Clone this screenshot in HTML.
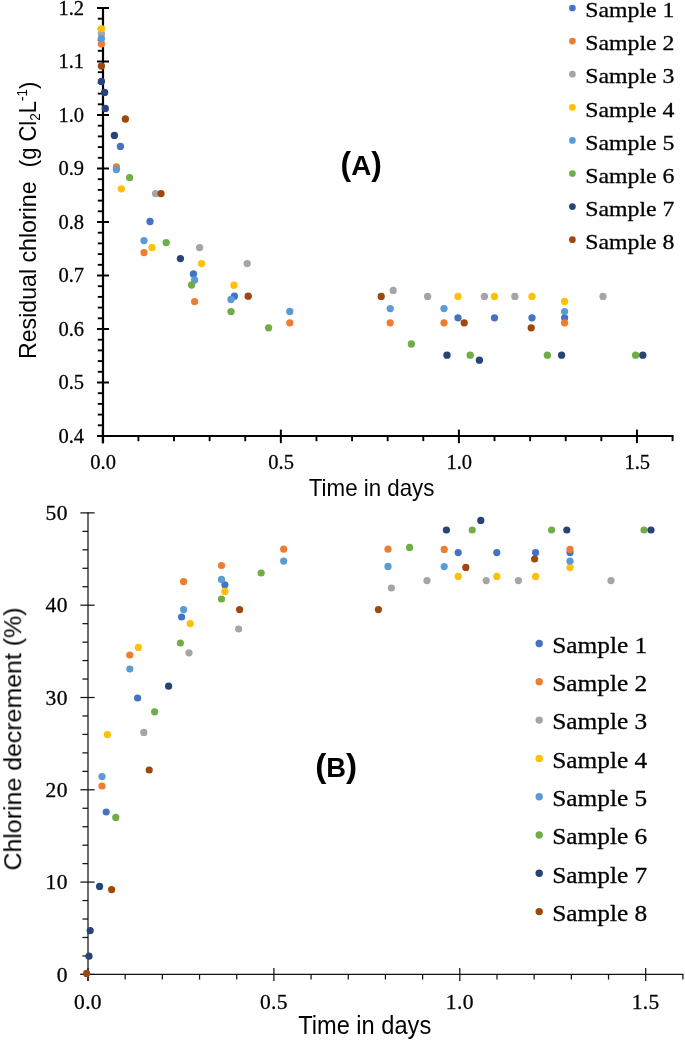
<!DOCTYPE html>
<html lang="en"><head><meta charset="utf-8"><title>Residual chlorine and chlorine decrement vs time</title>
<style>
html,body{margin:0;padding:0;background:#fff;}
body{width:685px;height:1042px;overflow:hidden;}
svg{display:block;}
</style></head><body>
<svg width="685" height="1042" viewBox="0 0 685 1042">
<rect x="0" y="0" width="685" height="1042" fill="#fff"/>
<g opacity="0.999">
<line x1="103.00" y1="7.00" x2="103.00" y2="443.20" stroke="#000" stroke-width="2.2"/>
<line x1="97.00" y1="435.90" x2="673.50" y2="435.90" stroke="#000" stroke-width="2.0"/>
<line x1="97.00" y1="8.00" x2="109.00" y2="8.00" stroke="#000" stroke-width="2.0"/>
<line x1="97.80" y1="18.70" x2="103.00" y2="18.70" stroke="#000" stroke-width="1.9"/>
<line x1="97.80" y1="29.40" x2="103.00" y2="29.40" stroke="#000" stroke-width="1.9"/>
<line x1="97.80" y1="40.10" x2="103.00" y2="40.10" stroke="#000" stroke-width="1.9"/>
<line x1="97.80" y1="50.80" x2="103.00" y2="50.80" stroke="#000" stroke-width="1.9"/>
<line x1="97.00" y1="61.50" x2="109.00" y2="61.50" stroke="#000" stroke-width="2.0"/>
<line x1="97.80" y1="72.20" x2="103.00" y2="72.20" stroke="#000" stroke-width="1.9"/>
<line x1="97.80" y1="82.90" x2="103.00" y2="82.90" stroke="#000" stroke-width="1.9"/>
<line x1="97.80" y1="93.60" x2="103.00" y2="93.60" stroke="#000" stroke-width="1.9"/>
<line x1="97.80" y1="104.30" x2="103.00" y2="104.30" stroke="#000" stroke-width="1.9"/>
<line x1="97.00" y1="115.00" x2="109.00" y2="115.00" stroke="#000" stroke-width="2.0"/>
<line x1="97.80" y1="125.70" x2="103.00" y2="125.70" stroke="#000" stroke-width="1.9"/>
<line x1="97.80" y1="136.40" x2="103.00" y2="136.40" stroke="#000" stroke-width="1.9"/>
<line x1="97.80" y1="147.10" x2="103.00" y2="147.10" stroke="#000" stroke-width="1.9"/>
<line x1="97.80" y1="157.80" x2="103.00" y2="157.80" stroke="#000" stroke-width="1.9"/>
<line x1="97.00" y1="168.50" x2="109.00" y2="168.50" stroke="#000" stroke-width="2.0"/>
<line x1="97.80" y1="179.20" x2="103.00" y2="179.20" stroke="#000" stroke-width="1.9"/>
<line x1="97.80" y1="189.90" x2="103.00" y2="189.90" stroke="#000" stroke-width="1.9"/>
<line x1="97.80" y1="200.60" x2="103.00" y2="200.60" stroke="#000" stroke-width="1.9"/>
<line x1="97.80" y1="211.30" x2="103.00" y2="211.30" stroke="#000" stroke-width="1.9"/>
<line x1="97.00" y1="222.00" x2="109.00" y2="222.00" stroke="#000" stroke-width="2.0"/>
<line x1="97.80" y1="232.70" x2="103.00" y2="232.70" stroke="#000" stroke-width="1.9"/>
<line x1="97.80" y1="243.40" x2="103.00" y2="243.40" stroke="#000" stroke-width="1.9"/>
<line x1="97.80" y1="254.10" x2="103.00" y2="254.10" stroke="#000" stroke-width="1.9"/>
<line x1="97.80" y1="264.80" x2="103.00" y2="264.80" stroke="#000" stroke-width="1.9"/>
<line x1="97.00" y1="275.50" x2="109.00" y2="275.50" stroke="#000" stroke-width="2.0"/>
<line x1="97.80" y1="286.20" x2="103.00" y2="286.20" stroke="#000" stroke-width="1.9"/>
<line x1="97.80" y1="296.90" x2="103.00" y2="296.90" stroke="#000" stroke-width="1.9"/>
<line x1="97.80" y1="307.60" x2="103.00" y2="307.60" stroke="#000" stroke-width="1.9"/>
<line x1="97.80" y1="318.30" x2="103.00" y2="318.30" stroke="#000" stroke-width="1.9"/>
<line x1="97.00" y1="329.00" x2="109.00" y2="329.00" stroke="#000" stroke-width="2.0"/>
<line x1="97.80" y1="339.70" x2="103.00" y2="339.70" stroke="#000" stroke-width="1.9"/>
<line x1="97.80" y1="350.40" x2="103.00" y2="350.40" stroke="#000" stroke-width="1.9"/>
<line x1="97.80" y1="361.10" x2="103.00" y2="361.10" stroke="#000" stroke-width="1.9"/>
<line x1="97.80" y1="371.80" x2="103.00" y2="371.80" stroke="#000" stroke-width="1.9"/>
<line x1="97.00" y1="382.50" x2="109.00" y2="382.50" stroke="#000" stroke-width="2.0"/>
<line x1="97.80" y1="393.20" x2="103.00" y2="393.20" stroke="#000" stroke-width="1.9"/>
<line x1="97.80" y1="403.90" x2="103.00" y2="403.90" stroke="#000" stroke-width="1.9"/>
<line x1="97.80" y1="414.60" x2="103.00" y2="414.60" stroke="#000" stroke-width="1.9"/>
<line x1="97.80" y1="425.30" x2="103.00" y2="425.30" stroke="#000" stroke-width="1.9"/>
<line x1="97.00" y1="436.00" x2="109.00" y2="436.00" stroke="#000" stroke-width="2.0"/>
<line x1="102.80" y1="429.60" x2="102.80" y2="443.20" stroke="#000" stroke-width="2.0"/>
<line x1="138.41" y1="435.90" x2="138.41" y2="441.20" stroke="#000" stroke-width="1.9"/>
<line x1="174.02" y1="435.90" x2="174.02" y2="441.20" stroke="#000" stroke-width="1.9"/>
<line x1="209.63" y1="435.90" x2="209.63" y2="441.20" stroke="#000" stroke-width="1.9"/>
<line x1="245.24" y1="435.90" x2="245.24" y2="441.20" stroke="#000" stroke-width="1.9"/>
<line x1="280.85" y1="429.60" x2="280.85" y2="443.20" stroke="#000" stroke-width="2.0"/>
<line x1="316.46" y1="435.90" x2="316.46" y2="441.20" stroke="#000" stroke-width="1.9"/>
<line x1="352.07" y1="435.90" x2="352.07" y2="441.20" stroke="#000" stroke-width="1.9"/>
<line x1="387.68" y1="435.90" x2="387.68" y2="441.20" stroke="#000" stroke-width="1.9"/>
<line x1="423.29" y1="435.90" x2="423.29" y2="441.20" stroke="#000" stroke-width="1.9"/>
<line x1="458.90" y1="429.60" x2="458.90" y2="443.20" stroke="#000" stroke-width="2.0"/>
<line x1="494.51" y1="435.90" x2="494.51" y2="441.20" stroke="#000" stroke-width="1.9"/>
<line x1="530.12" y1="435.90" x2="530.12" y2="441.20" stroke="#000" stroke-width="1.9"/>
<line x1="565.73" y1="435.90" x2="565.73" y2="441.20" stroke="#000" stroke-width="1.9"/>
<line x1="601.34" y1="435.90" x2="601.34" y2="441.20" stroke="#000" stroke-width="1.9"/>
<line x1="636.95" y1="429.60" x2="636.95" y2="443.20" stroke="#000" stroke-width="2.0"/>
<line x1="672.56" y1="435.90" x2="672.56" y2="441.20" stroke="#000" stroke-width="1.9"/>
<text x="84.00" y="14.90" font-family='"Liberation Serif", serif' font-size="20.5" font-weight="normal" text-anchor="end" fill="#000" stroke="#000" stroke-width="0.3" stroke-linejoin="round">1.2</text>
<text x="84.00" y="68.40" font-family='"Liberation Serif", serif' font-size="20.5" font-weight="normal" text-anchor="end" fill="#000" stroke="#000" stroke-width="0.3" stroke-linejoin="round">1.1</text>
<text x="84.00" y="121.90" font-family='"Liberation Serif", serif' font-size="20.5" font-weight="normal" text-anchor="end" fill="#000" stroke="#000" stroke-width="0.3" stroke-linejoin="round">1.0</text>
<text x="84.00" y="175.40" font-family='"Liberation Serif", serif' font-size="20.5" font-weight="normal" text-anchor="end" fill="#000" stroke="#000" stroke-width="0.3" stroke-linejoin="round">0.9</text>
<text x="84.00" y="228.90" font-family='"Liberation Serif", serif' font-size="20.5" font-weight="normal" text-anchor="end" fill="#000" stroke="#000" stroke-width="0.3" stroke-linejoin="round">0.8</text>
<text x="84.00" y="282.40" font-family='"Liberation Serif", serif' font-size="20.5" font-weight="normal" text-anchor="end" fill="#000" stroke="#000" stroke-width="0.3" stroke-linejoin="round">0.7</text>
<text x="84.00" y="335.90" font-family='"Liberation Serif", serif' font-size="20.5" font-weight="normal" text-anchor="end" fill="#000" stroke="#000" stroke-width="0.3" stroke-linejoin="round">0.6</text>
<text x="84.00" y="389.40" font-family='"Liberation Serif", serif' font-size="20.5" font-weight="normal" text-anchor="end" fill="#000" stroke="#000" stroke-width="0.3" stroke-linejoin="round">0.5</text>
<text x="84.00" y="442.90" font-family='"Liberation Serif", serif' font-size="20.5" font-weight="normal" text-anchor="end" fill="#000" stroke="#000" stroke-width="0.3" stroke-linejoin="round">0.4</text>
<text x="103.10" y="468.70" font-family='"Liberation Serif", serif' font-size="20.5" font-weight="normal" text-anchor="middle" fill="#000" stroke="#000" stroke-width="0.3" stroke-linejoin="round">0.0</text>
<text x="281.15" y="468.70" font-family='"Liberation Serif", serif' font-size="20.5" font-weight="normal" text-anchor="middle" fill="#000" stroke="#000" stroke-width="0.3" stroke-linejoin="round">0.5</text>
<text x="459.20" y="468.70" font-family='"Liberation Serif", serif' font-size="20.5" font-weight="normal" text-anchor="middle" fill="#000" stroke="#000" stroke-width="0.3" stroke-linejoin="round">1.0</text>
<text x="637.25" y="468.70" font-family='"Liberation Serif", serif' font-size="20.5" font-weight="normal" text-anchor="middle" fill="#000" stroke="#000" stroke-width="0.3" stroke-linejoin="round">1.5</text>
<text x="308.80" y="495.60" font-family='"Liberation Sans", sans-serif' font-size="24.0" font-weight="normal" text-anchor="start" fill="#000" textLength="125.60" lengthAdjust="spacingAndGlyphs">Time in days</text>
<text transform="translate(35.6,359.0) rotate(-90)" font-family='"Liberation Sans", sans-serif' font-size="23.6" fill="#000" textLength="177.6" lengthAdjust="spacingAndGlyphs">Residual chlorine</text>
<text transform="translate(35.6,167.2) rotate(-90)" font-family='"Liberation Sans", sans-serif' font-size="23.6" fill="#000" textLength="85.6" lengthAdjust="spacingAndGlyphs">(g Cl<tspan font-size="14.5" dy="4.5">2</tspan><tspan dy="-4.5">L</tspan><tspan font-size="14.5" dy="-8.5">-1</tspan><tspan dy="8.5">)</tspan></text>
<text x="340.60" y="175.00" font-family='"Liberation Sans", sans-serif' font-size="28.5" font-weight="bold" text-anchor="start" fill="#000" textLength="41.20" lengthAdjust="spacingAndGlyphs"><tspan font-size="32.5">(</tspan>A<tspan font-size="32.5">)</tspan></text>
<circle cx="572.4" cy="8.00" r="3.35" fill="#4472C4"/>
<text x="585.30" y="17.20" font-family='"Liberation Serif", serif' font-size="22.0" font-weight="normal" text-anchor="start" fill="#000" stroke="#000" stroke-width="0.3" stroke-linejoin="round" textLength="89.20" lengthAdjust="spacingAndGlyphs">Sample 1</text>
<circle cx="572.4" cy="41.10" r="3.35" fill="#ED7D31"/>
<text x="585.30" y="50.30" font-family='"Liberation Serif", serif' font-size="22.0" font-weight="normal" text-anchor="start" fill="#000" stroke="#000" stroke-width="0.3" stroke-linejoin="round" textLength="89.20" lengthAdjust="spacingAndGlyphs">Sample 2</text>
<circle cx="572.4" cy="74.20" r="3.35" fill="#A5A5A5"/>
<text x="585.30" y="83.40" font-family='"Liberation Serif", serif' font-size="22.0" font-weight="normal" text-anchor="start" fill="#000" stroke="#000" stroke-width="0.3" stroke-linejoin="round" textLength="89.20" lengthAdjust="spacingAndGlyphs">Sample 3</text>
<circle cx="572.4" cy="107.30" r="3.35" fill="#FFC000"/>
<text x="585.30" y="116.50" font-family='"Liberation Serif", serif' font-size="22.0" font-weight="normal" text-anchor="start" fill="#000" stroke="#000" stroke-width="0.3" stroke-linejoin="round" textLength="89.20" lengthAdjust="spacingAndGlyphs">Sample 4</text>
<circle cx="572.4" cy="140.40" r="3.35" fill="#5B9BD5"/>
<text x="585.30" y="149.60" font-family='"Liberation Serif", serif' font-size="22.0" font-weight="normal" text-anchor="start" fill="#000" stroke="#000" stroke-width="0.3" stroke-linejoin="round" textLength="89.20" lengthAdjust="spacingAndGlyphs">Sample 5</text>
<circle cx="572.4" cy="173.50" r="3.35" fill="#70AD47"/>
<text x="585.30" y="182.70" font-family='"Liberation Serif", serif' font-size="22.0" font-weight="normal" text-anchor="start" fill="#000" stroke="#000" stroke-width="0.3" stroke-linejoin="round" textLength="89.20" lengthAdjust="spacingAndGlyphs">Sample 6</text>
<circle cx="572.4" cy="206.60" r="3.35" fill="#264478"/>
<text x="585.30" y="215.80" font-family='"Liberation Serif", serif' font-size="22.0" font-weight="normal" text-anchor="start" fill="#000" stroke="#000" stroke-width="0.3" stroke-linejoin="round" textLength="89.20" lengthAdjust="spacingAndGlyphs">Sample 7</text>
<circle cx="572.4" cy="239.70" r="3.35" fill="#9E480E"/>
<text x="585.30" y="248.90" font-family='"Liberation Serif", serif' font-size="22.0" font-weight="normal" text-anchor="start" fill="#000" stroke="#000" stroke-width="0.3" stroke-linejoin="round" textLength="89.20" lengthAdjust="spacingAndGlyphs">Sample 8</text>
<line x1="88.00" y1="512.30" x2="88.00" y2="981.00" stroke="#141414" stroke-width="1.25"/>
<line x1="80.40" y1="974.40" x2="683.50" y2="974.40" stroke="#141414" stroke-width="1.25"/>
<line x1="80.40" y1="974.40" x2="94.60" y2="974.40" stroke="#141414" stroke-width="1.25"/>
<line x1="82.40" y1="955.94" x2="88.00" y2="955.94" stroke="#141414" stroke-width="1.25"/>
<line x1="82.40" y1="937.48" x2="88.00" y2="937.48" stroke="#141414" stroke-width="1.25"/>
<line x1="82.40" y1="919.02" x2="88.00" y2="919.02" stroke="#141414" stroke-width="1.25"/>
<line x1="82.40" y1="900.56" x2="88.00" y2="900.56" stroke="#141414" stroke-width="1.25"/>
<line x1="80.40" y1="882.10" x2="94.60" y2="882.10" stroke="#141414" stroke-width="1.25"/>
<line x1="82.40" y1="863.64" x2="88.00" y2="863.64" stroke="#141414" stroke-width="1.25"/>
<line x1="82.40" y1="845.18" x2="88.00" y2="845.18" stroke="#141414" stroke-width="1.25"/>
<line x1="82.40" y1="826.72" x2="88.00" y2="826.72" stroke="#141414" stroke-width="1.25"/>
<line x1="82.40" y1="808.26" x2="88.00" y2="808.26" stroke="#141414" stroke-width="1.25"/>
<line x1="80.40" y1="789.80" x2="94.60" y2="789.80" stroke="#141414" stroke-width="1.25"/>
<line x1="82.40" y1="771.34" x2="88.00" y2="771.34" stroke="#141414" stroke-width="1.25"/>
<line x1="82.40" y1="752.88" x2="88.00" y2="752.88" stroke="#141414" stroke-width="1.25"/>
<line x1="82.40" y1="734.42" x2="88.00" y2="734.42" stroke="#141414" stroke-width="1.25"/>
<line x1="82.40" y1="715.96" x2="88.00" y2="715.96" stroke="#141414" stroke-width="1.25"/>
<line x1="80.40" y1="697.50" x2="94.60" y2="697.50" stroke="#141414" stroke-width="1.25"/>
<line x1="82.40" y1="679.04" x2="88.00" y2="679.04" stroke="#141414" stroke-width="1.25"/>
<line x1="82.40" y1="660.58" x2="88.00" y2="660.58" stroke="#141414" stroke-width="1.25"/>
<line x1="82.40" y1="642.12" x2="88.00" y2="642.12" stroke="#141414" stroke-width="1.25"/>
<line x1="82.40" y1="623.66" x2="88.00" y2="623.66" stroke="#141414" stroke-width="1.25"/>
<line x1="80.40" y1="605.20" x2="94.60" y2="605.20" stroke="#141414" stroke-width="1.25"/>
<line x1="82.40" y1="586.74" x2="88.00" y2="586.74" stroke="#141414" stroke-width="1.25"/>
<line x1="82.40" y1="568.28" x2="88.00" y2="568.28" stroke="#141414" stroke-width="1.25"/>
<line x1="82.40" y1="549.82" x2="88.00" y2="549.82" stroke="#141414" stroke-width="1.25"/>
<line x1="82.40" y1="531.36" x2="88.00" y2="531.36" stroke="#141414" stroke-width="1.25"/>
<line x1="80.40" y1="512.90" x2="94.60" y2="512.90" stroke="#141414" stroke-width="1.25"/>
<line x1="88.00" y1="968.00" x2="88.00" y2="981.00" stroke="#141414" stroke-width="1.25"/>
<line x1="125.18" y1="974.40" x2="125.18" y2="979.60" stroke="#141414" stroke-width="1.25"/>
<line x1="162.36" y1="974.40" x2="162.36" y2="979.60" stroke="#141414" stroke-width="1.25"/>
<line x1="199.54" y1="974.40" x2="199.54" y2="979.60" stroke="#141414" stroke-width="1.25"/>
<line x1="236.72" y1="974.40" x2="236.72" y2="979.60" stroke="#141414" stroke-width="1.25"/>
<line x1="273.90" y1="968.00" x2="273.90" y2="981.00" stroke="#141414" stroke-width="1.25"/>
<line x1="311.08" y1="974.40" x2="311.08" y2="979.60" stroke="#141414" stroke-width="1.25"/>
<line x1="348.26" y1="974.40" x2="348.26" y2="979.60" stroke="#141414" stroke-width="1.25"/>
<line x1="385.44" y1="974.40" x2="385.44" y2="979.60" stroke="#141414" stroke-width="1.25"/>
<line x1="422.62" y1="974.40" x2="422.62" y2="979.60" stroke="#141414" stroke-width="1.25"/>
<line x1="459.80" y1="968.00" x2="459.80" y2="981.00" stroke="#141414" stroke-width="1.25"/>
<line x1="496.98" y1="974.40" x2="496.98" y2="979.60" stroke="#141414" stroke-width="1.25"/>
<line x1="534.16" y1="974.40" x2="534.16" y2="979.60" stroke="#141414" stroke-width="1.25"/>
<line x1="571.34" y1="974.40" x2="571.34" y2="979.60" stroke="#141414" stroke-width="1.25"/>
<line x1="608.52" y1="974.40" x2="608.52" y2="979.60" stroke="#141414" stroke-width="1.25"/>
<line x1="645.70" y1="968.00" x2="645.70" y2="981.00" stroke="#141414" stroke-width="1.25"/>
<line x1="682.88" y1="974.40" x2="682.88" y2="979.60" stroke="#141414" stroke-width="1.25"/>
<text x="67.80" y="981.60" font-family='"Liberation Serif", serif' font-size="21.5" font-weight="normal" text-anchor="end" fill="#000" stroke="#000" stroke-width="0.3" stroke-linejoin="round" letter-spacing="0.35">0</text>
<text x="67.80" y="889.30" font-family='"Liberation Serif", serif' font-size="21.5" font-weight="normal" text-anchor="end" fill="#000" stroke="#000" stroke-width="0.3" stroke-linejoin="round" letter-spacing="0.35">10</text>
<text x="67.80" y="797.00" font-family='"Liberation Serif", serif' font-size="21.5" font-weight="normal" text-anchor="end" fill="#000" stroke="#000" stroke-width="0.3" stroke-linejoin="round" letter-spacing="0.35">20</text>
<text x="67.80" y="704.70" font-family='"Liberation Serif", serif' font-size="21.5" font-weight="normal" text-anchor="end" fill="#000" stroke="#000" stroke-width="0.3" stroke-linejoin="round" letter-spacing="0.35">30</text>
<text x="67.80" y="612.40" font-family='"Liberation Serif", serif' font-size="21.5" font-weight="normal" text-anchor="end" fill="#000" stroke="#000" stroke-width="0.3" stroke-linejoin="round" letter-spacing="0.35">40</text>
<text x="67.80" y="520.10" font-family='"Liberation Serif", serif' font-size="21.5" font-weight="normal" text-anchor="end" fill="#000" stroke="#000" stroke-width="0.3" stroke-linejoin="round" letter-spacing="0.35">50</text>
<text x="88.00" y="1008.80" font-family='"Liberation Serif", serif' font-size="21.5" font-weight="normal" text-anchor="middle" fill="#000" stroke="#000" stroke-width="0.3" stroke-linejoin="round" letter-spacing="0.35">0.0</text>
<text x="273.90" y="1008.80" font-family='"Liberation Serif", serif' font-size="21.5" font-weight="normal" text-anchor="middle" fill="#000" stroke="#000" stroke-width="0.3" stroke-linejoin="round" letter-spacing="0.35">0.5</text>
<text x="459.80" y="1008.80" font-family='"Liberation Serif", serif' font-size="21.5" font-weight="normal" text-anchor="middle" fill="#000" stroke="#000" stroke-width="0.3" stroke-linejoin="round" letter-spacing="0.35">1.0</text>
<text x="645.70" y="1008.80" font-family='"Liberation Serif", serif' font-size="21.5" font-weight="normal" text-anchor="middle" fill="#000" stroke="#000" stroke-width="0.3" stroke-linejoin="round" letter-spacing="0.35">1.5</text>
<text x="298.20" y="1033.60" font-family='"Liberation Sans", sans-serif' font-size="25.4" font-weight="normal" text-anchor="start" fill="#000" textLength="133.00" lengthAdjust="spacingAndGlyphs">Time in days</text>
<text transform="translate(21.2,870.5) rotate(-90)" font-family='"Liberation Sans", sans-serif' font-size="24.4" fill="#000" textLength="263" lengthAdjust="spacingAndGlyphs">Chlorine decrement (%)</text>
<text x="315.20" y="776.60" font-family='"Liberation Sans", sans-serif' font-size="27.5" font-weight="bold" text-anchor="start" fill="#000" textLength="42.00" lengthAdjust="spacingAndGlyphs"><tspan font-size="33.5">(</tspan>B<tspan font-size="33.5">)</tspan></text>
<circle cx="539.2" cy="643.50" r="3.7" fill="#4472C4"/>
<text x="552.20" y="652.70" font-family='"Liberation Serif", serif' font-size="23.3" font-weight="normal" text-anchor="start" fill="#000" stroke="#000" stroke-width="0.3" stroke-linejoin="round" textLength="95.00" lengthAdjust="spacingAndGlyphs">Sample 1</text>
<circle cx="539.2" cy="681.80" r="3.7" fill="#ED7D31"/>
<text x="552.20" y="691.00" font-family='"Liberation Serif", serif' font-size="23.3" font-weight="normal" text-anchor="start" fill="#000" stroke="#000" stroke-width="0.3" stroke-linejoin="round" textLength="95.00" lengthAdjust="spacingAndGlyphs">Sample 2</text>
<circle cx="539.2" cy="720.10" r="3.7" fill="#A5A5A5"/>
<text x="552.20" y="729.30" font-family='"Liberation Serif", serif' font-size="23.3" font-weight="normal" text-anchor="start" fill="#000" stroke="#000" stroke-width="0.3" stroke-linejoin="round" textLength="95.00" lengthAdjust="spacingAndGlyphs">Sample 3</text>
<circle cx="539.2" cy="758.40" r="3.7" fill="#FFC000"/>
<text x="552.20" y="767.60" font-family='"Liberation Serif", serif' font-size="23.3" font-weight="normal" text-anchor="start" fill="#000" stroke="#000" stroke-width="0.3" stroke-linejoin="round" textLength="95.00" lengthAdjust="spacingAndGlyphs">Sample 4</text>
<circle cx="539.2" cy="796.70" r="3.7" fill="#5B9BD5"/>
<text x="552.20" y="805.90" font-family='"Liberation Serif", serif' font-size="23.3" font-weight="normal" text-anchor="start" fill="#000" stroke="#000" stroke-width="0.3" stroke-linejoin="round" textLength="95.00" lengthAdjust="spacingAndGlyphs">Sample 5</text>
<circle cx="539.2" cy="835.00" r="3.7" fill="#70AD47"/>
<text x="552.20" y="844.20" font-family='"Liberation Serif", serif' font-size="23.3" font-weight="normal" text-anchor="start" fill="#000" stroke="#000" stroke-width="0.3" stroke-linejoin="round" textLength="95.00" lengthAdjust="spacingAndGlyphs">Sample 6</text>
<circle cx="539.2" cy="873.30" r="3.7" fill="#264478"/>
<text x="552.20" y="882.50" font-family='"Liberation Serif", serif' font-size="23.3" font-weight="normal" text-anchor="start" fill="#000" stroke="#000" stroke-width="0.3" stroke-linejoin="round" textLength="95.00" lengthAdjust="spacingAndGlyphs">Sample 7</text>
<circle cx="539.2" cy="911.60" r="3.7" fill="#9E480E"/>
<text x="552.20" y="920.80" font-family='"Liberation Serif", serif' font-size="23.3" font-weight="normal" text-anchor="start" fill="#000" stroke="#000" stroke-width="0.3" stroke-linejoin="round" textLength="95.00" lengthAdjust="spacingAndGlyphs">Sample 8</text>
<circle cx="120.4" cy="146.4" r="3.65" fill="#4472C4"/>
<circle cx="150.0" cy="221.5" r="3.65" fill="#4472C4"/>
<circle cx="193.4" cy="274.0" r="3.65" fill="#4472C4"/>
<circle cx="234.4" cy="296.2" r="3.65" fill="#4472C4"/>
<circle cx="458.0" cy="317.8" r="3.65" fill="#4472C4"/>
<circle cx="494.5" cy="317.8" r="3.65" fill="#4472C4"/>
<circle cx="532.0" cy="317.8" r="3.65" fill="#4472C4"/>
<circle cx="564.6" cy="317.8" r="3.65" fill="#4472C4"/>
<circle cx="101.4" cy="43.9" r="3.65" fill="#ED7D31"/>
<circle cx="116.4" cy="167.0" r="3.65" fill="#ED7D31"/>
<circle cx="144.0" cy="252.6" r="3.65" fill="#ED7D31"/>
<circle cx="194.6" cy="301.6" r="3.65" fill="#ED7D31"/>
<circle cx="289.8" cy="322.8" r="3.65" fill="#ED7D31"/>
<circle cx="390.2" cy="322.8" r="3.65" fill="#ED7D31"/>
<circle cx="444.0" cy="322.8" r="3.65" fill="#ED7D31"/>
<circle cx="564.6" cy="322.8" r="3.65" fill="#ED7D31"/>
<circle cx="101.4" cy="33.7" r="3.65" fill="#A5A5A5"/>
<circle cx="155.6" cy="193.6" r="3.65" fill="#A5A5A5"/>
<circle cx="199.6" cy="247.6" r="3.65" fill="#A5A5A5"/>
<circle cx="247.2" cy="263.6" r="3.65" fill="#A5A5A5"/>
<circle cx="393.2" cy="290.4" r="3.65" fill="#A5A5A5"/>
<circle cx="427.6" cy="296.4" r="3.65" fill="#A5A5A5"/>
<circle cx="484.4" cy="296.4" r="3.65" fill="#A5A5A5"/>
<circle cx="514.8" cy="296.4" r="3.65" fill="#A5A5A5"/>
<circle cx="603.0" cy="296.4" r="3.65" fill="#A5A5A5"/>
<circle cx="101.4" cy="28.6" r="3.65" fill="#FFC000"/>
<circle cx="121.4" cy="188.8" r="3.65" fill="#FFC000"/>
<circle cx="152.0" cy="247.6" r="3.65" fill="#FFC000"/>
<circle cx="201.6" cy="263.6" r="3.65" fill="#FFC000"/>
<circle cx="234.0" cy="285.2" r="3.65" fill="#FFC000"/>
<circle cx="458.0" cy="296.4" r="3.65" fill="#FFC000"/>
<circle cx="494.5" cy="296.4" r="3.65" fill="#FFC000"/>
<circle cx="532.0" cy="296.4" r="3.65" fill="#FFC000"/>
<circle cx="564.6" cy="301.4" r="3.65" fill="#FFC000"/>
<circle cx="101.4" cy="38.6" r="3.65" fill="#5B9BD5"/>
<circle cx="116.4" cy="169.6" r="3.65" fill="#5B9BD5"/>
<circle cx="144.0" cy="240.6" r="3.65" fill="#5B9BD5"/>
<circle cx="194.6" cy="280.0" r="3.65" fill="#5B9BD5"/>
<circle cx="231.0" cy="299.4" r="3.65" fill="#5B9BD5"/>
<circle cx="289.8" cy="311.4" r="3.65" fill="#5B9BD5"/>
<circle cx="390.2" cy="308.6" r="3.65" fill="#5B9BD5"/>
<circle cx="444.0" cy="308.6" r="3.65" fill="#5B9BD5"/>
<circle cx="564.6" cy="311.6" r="3.65" fill="#5B9BD5"/>
<circle cx="129.6" cy="177.6" r="3.65" fill="#70AD47"/>
<circle cx="166.2" cy="242.6" r="3.65" fill="#70AD47"/>
<circle cx="191.6" cy="285.0" r="3.65" fill="#70AD47"/>
<circle cx="231.0" cy="311.6" r="3.65" fill="#70AD47"/>
<circle cx="268.6" cy="327.8" r="3.65" fill="#70AD47"/>
<circle cx="411.4" cy="344.0" r="3.65" fill="#70AD47"/>
<circle cx="470.2" cy="355.2" r="3.65" fill="#70AD47"/>
<circle cx="547.4" cy="355.2" r="3.65" fill="#70AD47"/>
<circle cx="635.6" cy="355.2" r="3.65" fill="#70AD47"/>
<circle cx="101.4" cy="81.4" r="3.65" fill="#264478"/>
<circle cx="104.6" cy="92.4" r="3.65" fill="#264478"/>
<circle cx="105.3" cy="108.4" r="3.65" fill="#264478"/>
<circle cx="114.4" cy="135.4" r="3.65" fill="#264478"/>
<circle cx="180.4" cy="258.6" r="3.65" fill="#264478"/>
<circle cx="447.0" cy="355.2" r="3.65" fill="#264478"/>
<circle cx="479.4" cy="360.2" r="3.65" fill="#264478"/>
<circle cx="561.6" cy="355.2" r="3.65" fill="#264478"/>
<circle cx="642.8" cy="355.2" r="3.65" fill="#264478"/>
<circle cx="101.4" cy="66.1" r="3.65" fill="#9E480E"/>
<circle cx="125.4" cy="119.0" r="3.65" fill="#9E480E"/>
<circle cx="161.0" cy="193.6" r="3.65" fill="#9E480E"/>
<circle cx="248.2" cy="296.2" r="3.65" fill="#9E480E"/>
<circle cx="381.2" cy="296.4" r="3.65" fill="#9E480E"/>
<circle cx="464.2" cy="322.8" r="3.65" fill="#9E480E"/>
<circle cx="531.2" cy="327.8" r="3.65" fill="#9E480E"/>
<circle cx="106.2" cy="812.0" r="3.6" fill="#4472C4"/>
<circle cx="137.6" cy="698.0" r="3.6" fill="#4472C4"/>
<circle cx="181.6" cy="617.0" r="3.6" fill="#4472C4"/>
<circle cx="224.9" cy="584.8" r="3.6" fill="#4472C4"/>
<circle cx="458.2" cy="552.6" r="3.6" fill="#4472C4"/>
<circle cx="496.8" cy="552.6" r="3.6" fill="#4472C4"/>
<circle cx="535.6" cy="552.6" r="3.6" fill="#4472C4"/>
<circle cx="570.0" cy="552.6" r="3.6" fill="#4472C4"/>
<circle cx="102.0" cy="786.0" r="3.6" fill="#ED7D31"/>
<circle cx="129.8" cy="655.0" r="3.6" fill="#ED7D31"/>
<circle cx="183.6" cy="581.6" r="3.6" fill="#ED7D31"/>
<circle cx="221.5" cy="565.5" r="3.6" fill="#ED7D31"/>
<circle cx="283.7" cy="549.2" r="3.6" fill="#ED7D31"/>
<circle cx="388.0" cy="549.2" r="3.6" fill="#ED7D31"/>
<circle cx="444.2" cy="549.4" r="3.6" fill="#ED7D31"/>
<circle cx="570.0" cy="549.4" r="3.6" fill="#ED7D31"/>
<circle cx="143.8" cy="732.4" r="3.6" fill="#A5A5A5"/>
<circle cx="189.0" cy="652.8" r="3.6" fill="#A5A5A5"/>
<circle cx="238.6" cy="629.0" r="3.6" fill="#A5A5A5"/>
<circle cx="391.4" cy="588.0" r="3.6" fill="#A5A5A5"/>
<circle cx="427.0" cy="580.6" r="3.6" fill="#A5A5A5"/>
<circle cx="486.2" cy="580.6" r="3.6" fill="#A5A5A5"/>
<circle cx="518.4" cy="580.6" r="3.6" fill="#A5A5A5"/>
<circle cx="611.0" cy="580.6" r="3.6" fill="#A5A5A5"/>
<circle cx="107.4" cy="734.6" r="3.6" fill="#FFC000"/>
<circle cx="138.4" cy="647.4" r="3.6" fill="#FFC000"/>
<circle cx="190.2" cy="623.6" r="3.6" fill="#FFC000"/>
<circle cx="224.9" cy="591.4" r="3.6" fill="#FFC000"/>
<circle cx="458.2" cy="576.4" r="3.6" fill="#FFC000"/>
<circle cx="496.8" cy="576.4" r="3.6" fill="#FFC000"/>
<circle cx="535.6" cy="576.4" r="3.6" fill="#FFC000"/>
<circle cx="570.0" cy="567.6" r="3.6" fill="#FFC000"/>
<circle cx="102.0" cy="776.6" r="3.6" fill="#5B9BD5"/>
<circle cx="129.8" cy="669.0" r="3.6" fill="#5B9BD5"/>
<circle cx="183.6" cy="609.6" r="3.6" fill="#5B9BD5"/>
<circle cx="221.5" cy="579.4" r="3.6" fill="#5B9BD5"/>
<circle cx="283.7" cy="561.1" r="3.6" fill="#5B9BD5"/>
<circle cx="388.0" cy="566.4" r="3.6" fill="#5B9BD5"/>
<circle cx="444.2" cy="566.6" r="3.6" fill="#5B9BD5"/>
<circle cx="570.0" cy="561.2" r="3.6" fill="#5B9BD5"/>
<circle cx="115.8" cy="817.4" r="3.6" fill="#70AD47"/>
<circle cx="154.6" cy="711.8" r="3.6" fill="#70AD47"/>
<circle cx="180.4" cy="643.0" r="3.6" fill="#70AD47"/>
<circle cx="221.5" cy="599.0" r="3.6" fill="#70AD47"/>
<circle cx="261.2" cy="573.0" r="3.6" fill="#70AD47"/>
<circle cx="409.6" cy="547.4" r="3.6" fill="#70AD47"/>
<circle cx="472.2" cy="530.0" r="3.6" fill="#70AD47"/>
<circle cx="551.6" cy="530.0" r="3.6" fill="#70AD47"/>
<circle cx="644.0" cy="530.0" r="3.6" fill="#70AD47"/>
<circle cx="89.0" cy="956.2" r="3.6" fill="#264478"/>
<circle cx="90.2" cy="930.6" r="3.6" fill="#264478"/>
<circle cx="99.6" cy="886.4" r="3.6" fill="#264478"/>
<circle cx="168.6" cy="686.2" r="3.6" fill="#264478"/>
<circle cx="446.4" cy="530.0" r="3.6" fill="#264478"/>
<circle cx="480.8" cy="520.4" r="3.6" fill="#264478"/>
<circle cx="566.8" cy="530.0" r="3.6" fill="#264478"/>
<circle cx="651.0" cy="530.0" r="3.6" fill="#264478"/>
<circle cx="86.6" cy="973.4" r="3.6" fill="#9E480E"/>
<circle cx="111.6" cy="889.6" r="3.6" fill="#9E480E"/>
<circle cx="149.2" cy="770.0" r="3.6" fill="#9E480E"/>
<circle cx="239.6" cy="609.6" r="3.6" fill="#9E480E"/>
<circle cx="378.4" cy="609.6" r="3.6" fill="#9E480E"/>
<circle cx="465.8" cy="567.4" r="3.6" fill="#9E480E"/>
<circle cx="534.6" cy="559.0" r="3.6" fill="#9E480E"/>
</g>
</svg>
</body></html>
